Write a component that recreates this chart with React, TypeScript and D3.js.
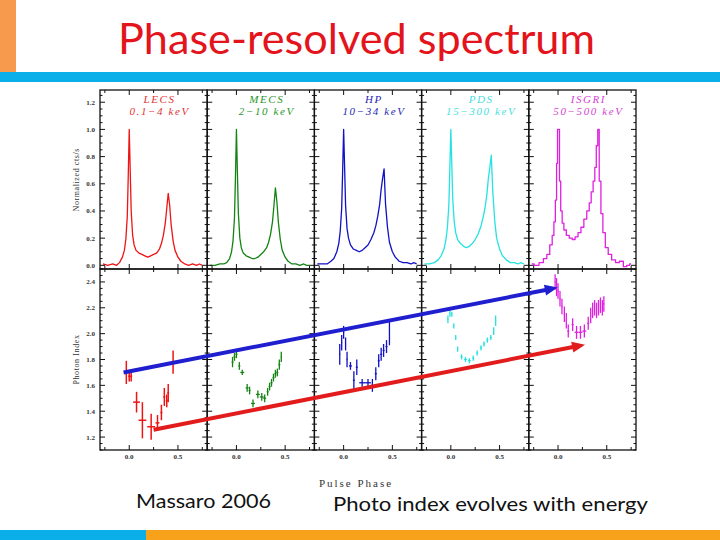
import React, { useEffect, useRef } from "react";
import * as d3 from "d3";

const INSTRUMENTS = ["LECS", "MECS", "HP", "PDS", "ISGRI"];
const ENERGY_BANDS = ["0.1−4 keV", "2−10 keV", "10−34 keV", "15−300 keV", "50−500 keV"];
const LINE_COLORS = ["#ee1414", "#128412", "#1010c4", "#26e2e2", "#e020e0"];
const TITLE_COLORS = ["#e23434", "#2a962a", "#2828b4", "#48e0e0", "#d444d4"];

// pulse phase grid shared by the five light curves
const PHASE = [
  -0.27, -0.22, -0.17, -0.13, -0.1, -0.07, -0.05, -0.035, -0.02, -0.01,
  0.0, 0.01, 0.02, 0.035, 0.05, 0.07, 0.1, 0.13, 0.16, 0.19,
  0.22, 0.25, 0.28, 0.31, 0.33, 0.35, 0.37, 0.385, 0.4, 0.415,
  0.43, 0.45, 0.47, 0.5, 0.53, 0.57, 0.61, 0.65, 0.69, 0.72, 0.75,
];

// normalised count rate (top row)
const LECS_RATE = [
  0.01, 0.0, 0.01, 0.0, 0.02, 0.06, 0.11, 0.19, 0.36, 0.66,
  1.0, 0.7, 0.4, 0.22, 0.15, 0.11, 0.09, 0.08, 0.07, 0.06,
  0.07, 0.08, 0.09, 0.12, 0.16, 0.22, 0.31, 0.42, 0.53, 0.44,
  0.3, 0.18, 0.11, 0.06, 0.03, 0.01, 0.0, 0.01, 0.0, 0.01, 0.0,
];
const MECS_RATE = [
  0.0, 0.0, 0.01, 0.01, 0.02, 0.05, 0.1, 0.18, 0.35, 0.65,
  1.0, 0.68, 0.38, 0.2, 0.13, 0.09, 0.07, 0.06, 0.05, 0.05,
  0.06, 0.08, 0.1, 0.13, 0.17, 0.23, 0.32, 0.44, 0.57, 0.47,
  0.32, 0.19, 0.11, 0.06, 0.03, 0.01, 0.01, 0.0, 0.01, 0.0, 0.0,
];
const HP_RATE = [
  0.01, 0.01, 0.01, 0.03, 0.05, 0.1, 0.16, 0.25, 0.42, 0.7,
  1.0, 0.72, 0.44, 0.27, 0.2, 0.15, 0.12, 0.11, 0.1, 0.11,
  0.13, 0.15, 0.19, 0.24, 0.29, 0.36, 0.45, 0.56, 0.64, 0.71,
  0.45, 0.28, 0.17, 0.1, 0.06, 0.03, 0.02, 0.02, 0.01, 0.02, 0.01,
];
const PDS_RATE = [
  0.01, 0.01, 0.02, 0.04, 0.07, 0.12, 0.19, 0.28, 0.45, 0.72,
  1.0, 0.74, 0.48, 0.32, 0.24, 0.19, 0.16, 0.14, 0.13, 0.14,
  0.16, 0.19, 0.23, 0.29, 0.35, 0.42, 0.52, 0.64, 0.72, 0.81,
  0.55, 0.33, 0.2, 0.12, 0.07, 0.04, 0.02, 0.02, 0.01, 0.02, 0.01,
];
const ISGRI_RATE = [
  0.01, 0.0, 0.02, 0.05, 0.08, 0.15, 0.22, 0.32, 0.48, 0.75,
  1.0, 1.0, 0.62, 0.4, 0.31, 0.26, 0.22, 0.2, 0.19, 0.21,
  0.24, 0.28, 0.34, 0.4, 0.46, 0.54, 0.62, 0.72, 0.88, 1.0,
  0.62, 0.38, 0.24, 0.13, 0.08, 0.04, 0.02, 0.03, -0.01, 0.0, 0.01,
];
const RATES = [LECS_RATE, MECS_RATE, HP_RATE, PDS_RATE, ISGRI_RATE];

// photon index (bottom row): [phase, index, phase half-bin, index error]
type IndexPoint = [number, number, number, number];
const LECS_INDEX: IndexPoint[] = [
  [-0.03, 1.7, 0.005, 0.09], [0.0, 1.67, 0.01, 0.04], [0.02, 1.67, 0.01, 0.04],
  [0.075, 1.47, 0.035, 0.08], [0.135, 1.33, 0.04, 0.14], [0.225, 1.28, 0.04, 0.1],
  [0.29, 1.31, 0.02, 0.06], [0.33, 1.39, 0.01, 0.06], [0.36, 1.51, 0.01, 0.07],
  [0.385, 1.48, 0.01, 0.05], [0.4, 1.54, 0.01, 0.07], [0.45, 1.78, 0.01, 0.09],
];
const MECS_INDEX: IndexPoint[] = [
  [-0.04, 1.78, 0.01, 0.04], [-0.02, 1.82, 0.01, 0.03], [0.0, 1.84, 0.01, 0.03],
  [0.03, 1.75, 0.01, 0.03], [0.06, 1.7, 0.02, 0.02], [0.11, 1.58, 0.015, 0.03],
  [0.135, 1.56, 0.01, 0.03], [0.17, 1.46, 0.02, 0.03], [0.22, 1.53, 0.02, 0.03],
  [0.26, 1.51, 0.02, 0.03], [0.29, 1.5, 0.015, 0.03], [0.32, 1.55, 0.01, 0.03],
  [0.34, 1.59, 0.01, 0.03], [0.36, 1.62, 0.01, 0.03], [0.38, 1.66, 0.01, 0.03],
  [0.4, 1.69, 0.01, 0.03], [0.42, 1.7, 0.01, 0.03], [0.44, 1.76, 0.01, 0.04],
  [0.46, 1.82, 0.005, 0.04],
];
const HP_INDEX: IndexPoint[] = [
  [-0.04, 1.84, 0.005, 0.08], [-0.02, 1.93, 0.005, 0.06], [0.0, 2.01, 0.005, 0.05],
  [0.02, 1.92, 0.005, 0.05], [0.035, 1.8, 0.005, 0.06], [0.07, 1.75, 0.015, 0.03],
  [0.105, 1.64, 0.01, 0.07], [0.135, 1.74, 0.01, 0.06], [0.19, 1.62, 0.03, 0.03],
  [0.25, 1.62, 0.03, 0.03], [0.295, 1.6, 0.01, 0.05], [0.33, 1.69, 0.01, 0.05],
  [0.36, 1.79, 0.01, 0.05], [0.385, 1.84, 0.01, 0.05], [0.41, 1.87, 0.01, 0.05],
  [0.44, 1.9, 0.01, 0.05], [0.47, 2.0, 0.005, 0.09],
];
const PDS_INDEX: IndexPoint[] = [
  [-0.03, 2.11, 0.005, 0.03], [-0.01, 2.16, 0.005, 0.03], [0.01, 2.15, 0.005, 0.02],
  [0.03, 2.06, 0.005, 0.02], [0.05, 1.97, 0.005, 0.02], [0.07, 1.88, 0.005, 0.02],
  [0.11, 1.82, 0.01, 0.02], [0.15, 1.8, 0.015, 0.02], [0.19, 1.79, 0.015, 0.02],
  [0.23, 1.81, 0.01, 0.02], [0.27, 1.85, 0.01, 0.02], [0.31, 1.89, 0.01, 0.02],
  [0.34, 1.92, 0.01, 0.02], [0.375, 1.95, 0.01, 0.02], [0.41, 1.97, 0.01, 0.02],
  [0.44, 2.02, 0.005, 0.03], [0.46, 2.1, 0.005, 0.04],
];
const ISGRI_INDEX: IndexPoint[] = [
  [-0.03, 2.4, 0.005, 0.06], [-0.015, 2.36, 0.005, 0.07], [0.0, 2.33, 0.005, 0.06],
  [0.02, 2.27, 0.005, 0.06], [0.04, 2.21, 0.005, 0.06], [0.065, 2.15, 0.005, 0.06],
  [0.085, 2.1, 0.005, 0.06], [0.105, 2.02, 0.01, 0.05], [0.15, 2.07, 0.01, 0.05],
  [0.19, 2.01, 0.02, 0.05], [0.23, 2.01, 0.02, 0.05], [0.27, 2.02, 0.02, 0.05],
  [0.31, 2.08, 0.01, 0.05], [0.335, 2.14, 0.005, 0.06], [0.355, 2.18, 0.005, 0.06],
  [0.375, 2.2, 0.005, 0.06], [0.395, 2.18, 0.005, 0.06], [0.415, 2.2, 0.005, 0.06],
  [0.435, 2.22, 0.005, 0.06], [0.455, 2.2, 0.005, 0.06], [0.47, 2.23, 0.005, 0.06],
];
const INDEXES = [LECS_INDEX, MECS_INDEX, HP_INDEX, PDS_INDEX, ISGRI_INDEX];

const PHASE_TICKS = [0, 0.5];
const PHASE_MINOR = [-0.25, 0.25, 0.75];
const RATE_TICKS = [0, 0.2, 0.4, 0.6, 0.8, 1.0, 1.2];
const INDEX_TICKS = [1.2, 1.4, 1.6, 1.8, 2.0, 2.2, 2.4];

// trend arrows over the photon index row: [panel, phase, index]
const BLUE_ARROW = [[0, -0.058, 1.7], [4, -0.003, 2.356]];
const RED_ARROW = [[0, 0.25, 1.257], [4, 0.277, 1.915]];

export default function App() {
  const svgRef = useRef<SVGSVGElement>(null);

  useEffect(() => {
    if (!svgRef.current) return;
    const svg = d3.select(svgRef.current);
    svg.selectAll("*").remove();

    const W = 720;
    const H = 540;
    const serif = "'Liberation Serif', 'DejaVu Serif', serif";
    const sans = "Lato, 'Open Sans', sans-serif";

    svg.append("rect").attr("width", W).attr("height", H).attr("fill", "#fff");

    // slide decoration
    svg.append("rect").attr("x", 0).attr("y", 0).attr("width", 16).attr("height", 72).attr("fill", "#f79a4d");
    svg.append("rect").attr("x", 0).attr("y", 72).attr("width", W).attr("height", 10).attr("fill", "#0aaee8");
    svg.append("rect").attr("x", 0).attr("y", 530).attr("width", 146).attr("height", 10).attr("fill", "#0aaee8");
    svg.append("rect").attr("x", 146).attr("y", 530).attr("width", W - 146).attr("height", 10).attr("fill", "#f8a21c");

    svg.append("text")
      .attr("x", 118).attr("y", 54)
      .attr("font-family", sans).attr("font-size", 43)
      .attr("fill", "#e3141c")
      .attr("textLength", 477).attr("lengthAdjust", "spacingAndGlyphs")
      .text("Phase-resolved spectrum");

    // Scales
    const panel = d3.scaleBand<string>().domain(INSTRUMENTS).range([100, 636]);
    const bw = panel.bandwidth();
    const yRate = d3.scaleLinear().domain([-0.027, 1.29]).range([269, 90]);
    const yIndex = d3.scaleLinear().domain([1.1, 2.5]).range([450, 269]);
    const phaseScale = (name: string) =>
      d3.scaleLinear().domain([-0.3, 0.8]).range([panel(name)!, panel(name)! + bw]);
    const fmt = d3.format(".1f");

    const plot = svg.append("g");

    INSTRUMENTS.forEach((name, i) => {
      const x = phaseScale(name);
      const color = LINE_COLORS[i];

      // light curve
      const line = d3.line<number>()
        .x((_d, j) => x(PHASE[j]))
        .y((d) => yRate(d))
        .curve(name === "ISGRI" ? d3.curveStep : d3.curveLinear);
      plot.append("path")
        .attr("d", line(RATES[i]))
        .attr("fill", "none")
        .attr("stroke", color)
        .attr("stroke-width", 1.3)
        .attr("stroke-linejoin", "round");

      // photon index error crosses
      const pts = plot.append("g").attr("stroke", color).attr("stroke-width", name === "LECS" ? 1.5 : 1.3);
      INDEXES[i].forEach(([p, v, dp, dv]) => {
        pts.append("line")
          .attr("x1", x(p - dp)).attr("x2", x(p + dp))
          .attr("y1", yIndex(v)).attr("y2", yIndex(v));
        pts.append("line")
          .attr("x1", x(p)).attr("x2", x(p))
          .attr("y1", yIndex(v - dv)).attr("y2", yIndex(v + dv));
      });

      // panel titles
      const cx = x(0.25) + 6;
      [name, ENERGY_BANDS[i]].forEach((t, k) => {
        plot.append("text")
          .attr("x", cx).attr("y", 103 + k * 12)
          .attr("text-anchor", "middle")
          .attr("font-family", serif).attr("font-style", "italic")
          .attr("font-size", 11).attr("letter-spacing", 1.6)
          .attr("fill", TITLE_COLORS[i])
          .text(t);
      });
    });

    // frames and ticks
    const axes = svg.append("g").attr("stroke", "#111").attr("fill", "none");
    const rows: [d3.ScaleLinear<number, number>, number[], boolean][] = [
      [yRate, RATE_TICKS, false],
      [yIndex, INDEX_TICKS, true],
    ];
    rows.forEach(([y, majors, bottomRow]) => {
      const [yb, yt] = y.range();
      INSTRUMENTS.forEach((name, i) => {
        const x = phaseScale(name);
        const [x0, x1] = x.range();
        axes.append("rect")
          .attr("x", x0).attr("y", yt)
          .attr("width", x1 - x0).attr("height", yb - yt)
          .attr("stroke-width", 1.3);

        y.ticks(28).forEach((t) => {
          const major = majors.some((m) => Math.abs(m - t) < 1e-6);
          const len = major ? 5 : 2.5;
          axes.append("line").attr("x1", x0).attr("x2", x0 + len).attr("y1", y(t)).attr("y2", y(t)).attr("stroke-width", 1);
          axes.append("line").attr("x1", x1 - len).attr("x2", x1).attr("y1", y(t)).attr("y2", y(t)).attr("stroke-width", 1);
        });
        [...PHASE_TICKS, ...PHASE_MINOR].forEach((t) => {
          const len = PHASE_TICKS.includes(t) ? 5 : 3;
          axes.append("line").attr("x1", x(t)).attr("x2", x(t)).attr("y1", yb).attr("y2", yb - len).attr("stroke-width", 1);
          axes.append("line").attr("x1", x(t)).attr("x2", x(t)).attr("y1", yt).attr("y2", yt + len).attr("stroke-width", 1);
        });

        if (i === 0) {
          majors.forEach((t) => {
            svg.append("text")
              .attr("x", 95).attr("y", y(t) + 2.5)
              .attr("text-anchor", "end")
              .attr("font-family", serif).attr("font-weight", "bold")
              .attr("font-size", 7).attr("fill", "#333")
              .text(fmt(t));
          });
        }
        if (bottomRow) {
          PHASE_TICKS.forEach((t) => {
            svg.append("text")
              .attr("x", x(t)).attr("y", 459)
              .attr("text-anchor", "middle")
              .attr("font-family", serif).attr("font-weight", "bold")
              .attr("font-size", 7).attr("fill", "#333")
              .text(fmt(t));
          });
        }
      });
    });

    // axis titles
    const axisTitle = (t: string, xx: number, yy: number, rotate: boolean) =>
      svg.append("text")
        .attr("transform", `translate(${xx},${yy})${rotate ? " rotate(-90)" : ""}`)
        .attr("text-anchor", "middle")
        .attr("font-family", serif).attr("font-size", rotate ? 8 : 11)
        .attr("letter-spacing", rotate ? 0.6 : 2)
        .attr("fill", "#333")
        .text(t);
    axisTitle("Normalized cts/s", 79, yRate(0.63), true);
    axisTitle("Photon Index", 79, yIndex(1.8), true);
    axisTitle("Pulse Phase", 356, 487, false);

    // trend arrows
    const arrow = (pts: number[][], color: string) => {
      const [a, b] = pts.map(([p, ph, v]) => [phaseScale(INSTRUMENTS[p])(ph), yIndex(v)]);
      const dx = b[0] - a[0];
      const dy = b[1] - a[1];
      const len = Math.hypot(dx, dy);
      const ux = dx / len;
      const uy = dy / len;
      const head = 13;
      const half = 5.5;
      const bx = b[0] - ux * head;
      const by = b[1] - uy * head;
      svg.append("line")
        .attr("x1", a[0]).attr("y1", a[1])
        .attr("x2", bx + ux * 2).attr("y2", by + uy * 2)
        .attr("stroke", color).attr("stroke-width", 4);
      svg.append("path")
        .attr("d", `M${b[0]},${b[1]}L${bx - uy * half},${by + ux * half}L${bx + uy * half},${by - ux * half}Z`)
        .attr("fill", color);
    };
    arrow(BLUE_ARROW, "#1f1fd0");
    arrow(RED_ARROW, "#e21c1c");

    // footer notes
    svg.append("text")
      .attr("x", 136).attr("y", 508)
      .attr("font-family", sans).attr("font-size", 20).attr("fill", "#111")
      .attr("textLength", 135).attr("lengthAdjust", "spacingAndGlyphs")
      .text("Massaro 2006");
    svg.append("text")
      .attr("x", 333).attr("y", 511)
      .attr("font-family", sans).attr("font-size", 20).attr("fill", "#111")
      .attr("textLength", 315).attr("lengthAdjust", "spacingAndGlyphs")
      .text("Photo index evolves with energy");
  }, []);

  return (
    <svg
      ref={svgRef}
      width={720}
      height={540}
      style={{ position: "absolute", left: 0, top: 0 }}
    />
  );
}
